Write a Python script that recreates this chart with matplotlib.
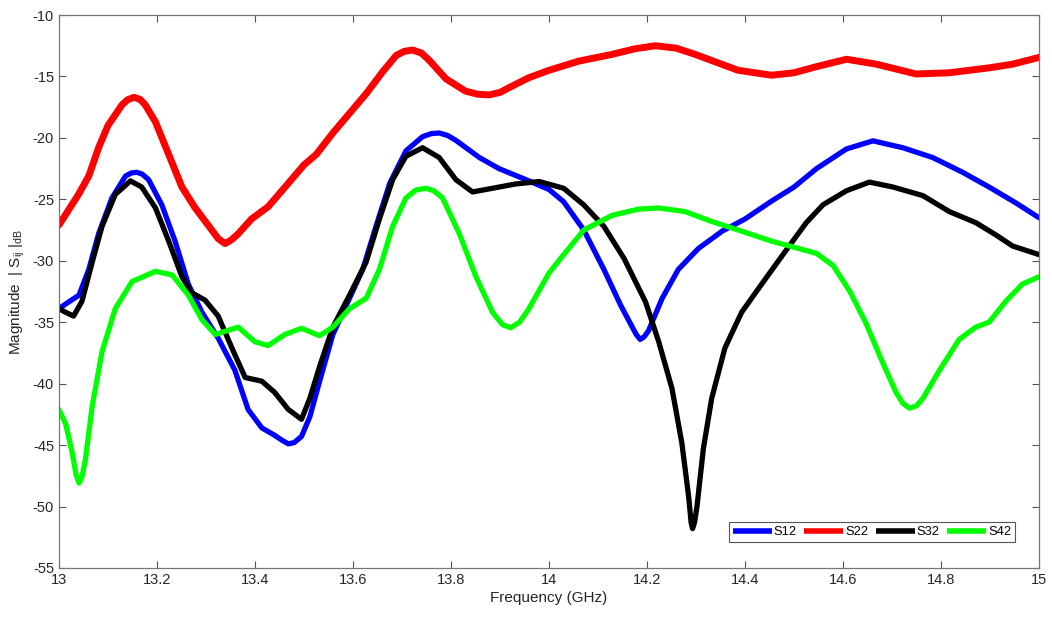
import matplotlib
matplotlib.use("Agg")
import matplotlib.pyplot as plt

plt.rcParams['font.family'] = ['Liberation Sans', 'DejaVu Sans']
plt.rcParams['mathtext.fontset'] = 'custom'
plt.rcParams['mathtext.rm'] = 'Liberation Sans'
plt.rcParams['mathtext.it'] = 'Liberation Sans:italic'
plt.rcParams['axes.unicode_minus'] = False

# S22 (red)
f_s22 = [13.0, 13.04, 13.061, 13.081, 13.10, 13.129, 13.14, 13.153, 13.165, 13.176,
         13.197, 13.224, 13.251, 13.278, 13.312, 13.325, 13.339, 13.352, 13.366, 13.393,
         13.427, 13.468, 13.50, 13.525, 13.559, 13.593, 13.627, 13.661, 13.688, 13.705,
         13.722, 13.74, 13.756, 13.79, 13.83, 13.855, 13.878, 13.9, 13.919, 13.959,
         14.0, 14.061, 14.129, 14.175, 14.217, 14.26, 14.298, 14.386, 14.454, 14.50,
         14.546, 14.607, 14.668, 14.749, 14.817, 14.898, 14.946, 15.0]
s22 = [-27.1, -24.6, -23.1, -20.8, -19.0, -17.3, -16.9, -16.7, -16.85, -17.3,
       -18.7, -21.35, -24.0, -25.7, -27.5, -28.2, -28.6, -28.3, -27.8, -26.6,
       -25.6, -23.7, -22.2, -21.35, -19.6, -18.0, -16.4, -14.6, -13.3, -12.95,
       -12.85, -13.1, -13.7, -15.2, -16.2, -16.45, -16.5, -16.3, -15.9, -15.1,
       -14.5, -13.75, -13.2, -12.75, -12.5, -12.7, -13.2, -14.5, -14.9, -14.7,
       -14.2, -13.6, -14.0, -14.8, -14.7, -14.3, -14.0, -13.45]

# S12 (blue)
f_s12 = [13.0, 13.02, 13.041, 13.061, 13.081, 13.108, 13.136, 13.148, 13.159, 13.17,
         13.183, 13.21, 13.237, 13.264, 13.292, 13.325, 13.359, 13.386, 13.414, 13.44,
         13.455, 13.468, 13.48, 13.495, 13.512, 13.532, 13.559, 13.593, 13.62, 13.647,
         13.675, 13.708, 13.742, 13.76, 13.776, 13.793, 13.81, 13.858, 13.898, 13.953,
         14.0, 14.03, 14.071, 14.112, 14.146, 14.17, 14.178, 14.186, 14.194, 14.203,
         14.231, 14.264, 14.305, 14.353, 14.4, 14.454, 14.5, 14.546, 14.607, 14.661,
         14.722, 14.783, 14.844, 14.898, 14.953, 15.0]
s12 = [-33.9, -33.35, -32.8, -30.7, -27.8, -24.9, -23.1, -22.85, -22.8, -22.95,
       -23.4, -25.45, -28.4, -31.9, -34.2, -36.3, -38.9, -42.1, -43.6, -44.2,
       -44.6, -44.9, -44.8, -44.3, -42.7, -39.8, -36.0, -33.05, -30.7, -27.2,
       -23.7, -21.06, -19.9, -19.65, -19.6, -19.8, -20.2, -21.6, -22.5, -23.4,
       -24.2, -25.2, -27.5, -30.7, -33.6, -35.4, -36.0, -36.4, -36.2, -35.7,
       -33.05, -30.7, -29.0, -27.6, -26.6, -25.15, -24.0, -22.5, -20.9, -20.24,
       -20.8, -21.6, -22.8, -24.0, -25.3, -26.5]

# S32 (black)
f_s32 = [13.0, 13.014, 13.03, 13.047, 13.068, 13.088, 13.115, 13.146, 13.169, 13.197,
         13.224, 13.251, 13.271, 13.298, 13.325, 13.353, 13.38, 13.414, 13.44, 13.468,
         13.495, 13.512, 13.532, 13.559, 13.593, 13.627, 13.654, 13.681, 13.708, 13.742,
         13.776, 13.81, 13.844, 13.885, 13.932, 13.98, 14.03, 14.071, 14.112, 14.153,
         14.197, 14.224, 14.251, 14.271, 14.285, 14.29, 14.293, 14.297, 14.302, 14.315,
         14.332, 14.359, 14.393, 14.434, 14.481, 14.525, 14.559, 14.607, 14.654, 14.702,
         14.763, 14.817, 14.871, 14.912, 14.946, 15.0]
s32 = [-33.9, -34.2, -34.5, -33.3, -30.1, -27.2, -24.6, -23.5, -24.0, -25.7,
       -28.4, -31.3, -32.6, -33.2, -34.5, -37.1, -39.5, -39.8, -40.7, -42.1,
       -42.9, -41.2, -38.6, -35.4, -32.8, -30.1, -26.6, -23.4, -21.5, -20.8,
       -21.6, -23.4, -24.4, -24.1, -23.75, -23.55, -24.1, -25.45, -27.2, -29.8,
       -33.35, -36.6, -40.4, -44.8, -49.2, -51.3, -51.8, -51.3, -50.0, -45.3,
       -41.2, -37.1, -34.2, -31.9, -29.3, -26.9, -25.45, -24.3, -23.6, -24.0,
       -24.7, -26.0, -26.9, -27.9, -28.8, -29.5]

# S42 (green)
f_s42 = [13.0, 13.014, 13.027, 13.035, 13.041, 13.047, 13.054, 13.068, 13.088, 13.115,
         13.149, 13.197, 13.231, 13.264, 13.292, 13.319, 13.366, 13.4, 13.427, 13.461,
         13.495, 13.532, 13.559, 13.593, 13.627, 13.654, 13.681, 13.708, 13.728, 13.749,
         13.765, 13.783, 13.817, 13.851, 13.885, 13.905, 13.922, 13.94, 13.959, 14.0,
         14.03, 14.071, 14.129, 14.183, 14.224, 14.278, 14.332, 14.386, 14.454, 14.50,
         14.546, 14.58, 14.614, 14.647, 14.681, 14.708, 14.722, 14.736, 14.75, 14.763,
         14.797, 14.837, 14.871, 14.898, 14.932, 14.966, 15.0]
s42 = [-42.1, -43.3, -45.6, -47.4, -48.1, -47.6, -46.2, -41.8, -37.4, -33.9,
       -31.7, -30.86, -31.15, -32.8, -34.8, -36.0, -35.4, -36.6, -36.9, -36.0,
       -35.5, -36.1, -35.4, -33.9, -33.05, -30.7, -27.2, -24.9, -24.25, -24.1,
       -24.3, -24.9, -27.8, -31.3, -34.2, -35.2, -35.45, -35.0, -33.9, -31.0,
       -29.5, -27.5, -26.3, -25.8, -25.7, -26.0, -26.8, -27.5, -28.4, -28.9,
       -29.4, -30.4, -32.5, -35.1, -38.3, -40.7, -41.6, -42.0, -41.8, -41.2,
       -38.9, -36.4, -35.4, -35.0, -33.3, -31.9, -31.3]

fig = plt.figure(figsize=(10.52, 6.18), dpi=100)
ax = fig.add_axes([0.056, 0.081, 0.9317, 0.8947])

style = dict(solid_capstyle='round', solid_joinstyle='round')
ax.plot(f_s12, s12, color=(0, 0, 1), lw=3.8, label='S12', **style)
ax.plot(f_s22, s22, color=(1, 0, 0), lw=5.0, label='S22', **style)
ax.plot(f_s32, s32, color='black', lw=3.8, label='S32', **style)
ax.plot(f_s42, s42, color=(0, 1, 0), lw=3.8, label='S42', **style)

ax.set_xlim(13, 15)
ax.set_ylim(-55, -10)
ax.set_xticks([13, 13.2, 13.4, 13.6, 13.8, 14, 14.2, 14.4, 14.6, 14.8, 15])
ax.set_xticklabels(['13', '13.2', '13.4', '13.6', '13.8', '14', '14.2', '14.4', '14.6', '14.8', '15'])
ax.set_yticks(range(-55, -9, 5))
ax.tick_params(direction='in', top=True, right=True, length=5, width=0.8,
               colors='#555555', labelcolor='#262626', labelsize=10.5)
for s in ax.spines.values():
    s.set_color('#777777')
    s.set_linewidth(0.9)

ax.set_xlabel('Frequency (GHz)', fontsize=11, color='#262626', labelpad=3)
ax.set_ylabel(r'Magnitude  $|\ \mathrm{S}_{\mathrm{ij}}\ |_{\mathrm{dB}}$', fontsize=11,
              color='#262626', labelpad=4)

leg = ax.legend(loc='lower right', ncol=4, fontsize=9.3, frameon=True, fancybox=False,
                framealpha=1, handlelength=3.0, handletextpad=0.15, columnspacing=0.6,
                borderpad=0.3, borderaxespad=0, bbox_to_anchor=(0.9755, 0.047))
leg.get_frame().set_edgecolor('#555555')
leg.get_frame().set_linewidth(0.8)
for h in leg.get_lines():
    h.set_linewidth(4.0)
    h.set_solid_capstyle('butt')

fig.savefig('out.png', dpi=100)
